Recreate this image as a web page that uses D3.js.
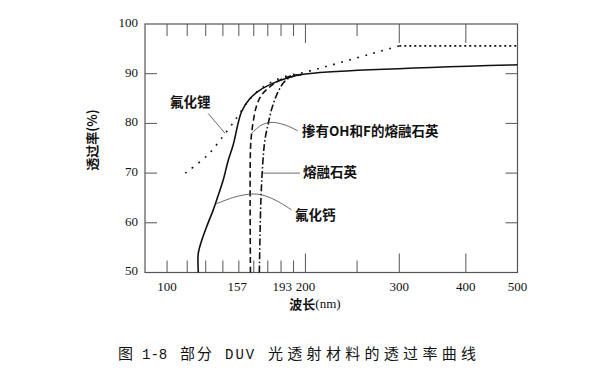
<!DOCTYPE html>
<html lang="zh">
<head>
    <meta charset="UTF-8">
    <title>DUV transmission curves</title>
    <script src="https://d3js.org/d3.v7.min.js"></script>
    <style>
        body { margin: 0; background: #fff; }
        text { fill: #111; }
    </style>
</head>
<body>
    <svg width="614" height="381"></svg>

    <script>
        // Curves: [wavelength nm, transmittance %]
        const lif = [[119, 70], [131, 73.6], [141, 77.8], [149, 81.3], [155, 84], [162, 86.3],
                     [172, 88.2], [185, 89.6], [196, 90.1], [300, 95.6], [500, 95.6]];
        const caf2 = [[125.9, 50], [125.9, 53.9], [127.8, 56.5], [130.5, 59.2], [134.3, 62.6],
                      [136.3, 64.6], [140.2, 68.6], [143.3, 72.6], [146.4, 75.7], [151.8, 82.4],
                      [157.4, 85], [164.3, 86.7], [174, 88.1], [184.4, 89.1], [198.2, 89.9], [500, 91.8]];
        const dopedSilica = [[157.7, 50], [157.7, 74.6], [158.4, 77.7], [159.8, 80.7], [161.9, 83.5],
                             [165.4, 85.7], [171.6, 87.4], [179.1, 88.7], [187, 89.5], [198.2, 89.9]];
        const silica = [[163.9, 50], [165, 64.6], [166.5, 72.6], [167.9, 76.7], [170.1, 79.7],
                        [173.1, 83.1], [177.6, 86.3], [183, 88.5], [189.4, 89.5], [198.2, 89.9]];

        // Leader lines to the labels
        const lifLeader = [[131.4, 82], [141.3, 78]];
        const dopedLeader = [[158.5, 78], [165, 79.6], [172.3, 80.2], [183, 79.7], [193.6, 78.5]];
        const silicaLeader = [[166.6, 70], [195.3, 70]];
        const caf2Leader = [[135.9, 63.8], [147.5, 65.2], [158.7, 65.8], [165.8, 65.6], [175.4, 64.6], [188.4, 62.6]];

        // Axis ticks and labels (labels sit where the original put them)
        const xMinorTicks = [110, 120, 130, 140, 150, 160, 170, 180, 190, 250];
        const xMajorTicks = [200, 300, 400];
        const xLabelPos = [110, 149, 181, 200, 300, 400, 500];
        const xLabelText = ["100", "157", "193", "200", "300", "400", "500"];
        const yTicks = [50, 60, 70, 80, 90, 100];

        const svg = d3.select("svg");
        const x = d3.scaleLog().domain([100, 500]).range([145, 517.5]);
        const y = d3.scaleLinear().domain([50, 100]).range([272.5, 24]);

        const line = d3.line()
            .x(d => x(d[0]))
            .y(d => y(d[1]))
            .curve(d3.curveCatmullRom.alpha(0.5));
        const straight = d3.line().x(d => x(d[0])).y(d => y(d[1]));

        // Frame
        svg.append("rect")
            .attr("x", x(100)).attr("y", y(100))
            .attr("width", x(500) - x(100)).attr("height", y(50) - y(100))
            .attr("fill", "none").attr("stroke", "#555").attr("stroke-width", 1.2);

        // x ticks, top and bottom, pointing inward
        const tickG = svg.append("g").attr("stroke", "#555").attr("stroke-width", 1);
        [[xMinorTicks, 12], [xMajorTicks, 19]].forEach(([vals, len]) => {
            vals.forEach(v => {
                tickG.append("line").attr("x1", x(v)).attr("x2", x(v))
                    .attr("y1", y(50)).attr("y2", y(50) - len);
                tickG.append("line").attr("x1", x(v)).attr("x2", x(v))
                    .attr("y1", y(100)).attr("y2", y(100) + len);
            });
        });
        // y ticks, left and right
        yTicks.slice(1, -1).forEach(v => {
            tickG.append("line").attr("x1", x(100)).attr("x2", x(100) + 12)
                .attr("y1", y(v)).attr("y2", y(v));
            tickG.append("line").attr("x1", x(500)).attr("x2", x(500) - 12)
                .attr("y1", y(v)).attr("y2", y(v));
        });

        const serif = "'Liberation Serif', 'Noto Sans CJK SC', serif";
        svg.append("g").selectAll("text").data(yTicks).join("text")
            .attr("x", x(100) - 7).attr("y", d => y(d))
            .attr("text-anchor", "end").attr("dominant-baseline", "middle")
            .style("font", `13px ${serif}`)
            .text(d => d);
        svg.append("g").selectAll("text").data(xLabelPos).join("text")
            .attr("x", d => x(d)).attr("y", y(50) + 18)
            .attr("text-anchor", "middle")
            .style("font", `13px ${serif}`)
            .text((d, i) => xLabelText[i]);

        // Curves
        const curves = svg.append("g").attr("fill", "none").attr("stroke", "#111").attr("stroke-width", 1.6);
        curves.append("path").attr("d", line(caf2));
        curves.append("path").attr("d", line(dopedSilica)).attr("stroke-dasharray", "6,3.5");
        curves.append("path").attr("d", line(silica)).attr("stroke-dasharray", "7,2.5,1.5,2.5");
        curves.append("path").attr("d", line(lif.filter(d => d[0] <= 300)))
            .attr("stroke-dasharray", "1.8,6.5");
        curves.append("path").attr("d", straight(lif.filter(d => d[0] >= 300)))
            .attr("stroke-dasharray", "2,3");

        // Leaders
        const leaders = svg.append("g").attr("fill", "none").attr("stroke", "#444").attr("stroke-width", 0.8);
        [lifLeader, dopedLeader, silicaLeader, caf2Leader].forEach(l => leaders.append("path").attr("d", line(l)));

        // Annotations
        const cjk = "'Noto Sans CJK SC', sans-serif";
        const notes = [["氟化锂", 111.4, 84], ["掺有OH和F的熔融石英", 197, 78.3],
                       ["熔融石英", 198, 70], ["氟化钙", 191.1, 61.4]];
        svg.append("g").selectAll("text").data(notes).join("text")
            .attr("x", d => x(d[1])).attr("y", d => y(d[2]))
            .attr("dominant-baseline", "middle")
            .style("font", `bold 13.5px ${cjk}`)
            .text(d => d[0]);

        // Axis titles
        svg.append("text")
            .attr("transform", "translate(93,140) rotate(-90)")
            .attr("text-anchor", "middle").attr("dominant-baseline", "middle")
            .style("font", `bold 13px ${cjk}`)
            .text("透过率(%)");
        const xt = svg.append("text")
            .attr("x", 315).attr("y", 305)
            .attr("text-anchor", "middle").attr("dominant-baseline", "middle")
            .style("font", `bold 13px ${cjk}`);
        xt.append("tspan").text("波长");
        xt.append("tspan").style("font", `13px ${serif}`).text("(nm)");

        // Caption, pieces spaced like the original
        const caption = [["图", 118, 15, 0, cjk], ["1-8", 142, 14, 0, "'Liberation Mono'"],
                         ["部分", 180, 15, 2, cjk], ["DUV", 225, 14, 2, "'Liberation Mono'"],
                         ["光透射材料的透过率曲线", 268, 15, 4.3, cjk]];
        const cap = svg.append("text").attr("y", 355).attr("dominant-baseline", "middle");
        caption.forEach(([t, cx, fs, ls, ff]) => {
            cap.append("tspan").attr("x", cx)
                .style("font", `${fs}px ${ff}`).style("letter-spacing", `${ls}px`)
                .text(t);
        });
    </script>
</body>
</html>
